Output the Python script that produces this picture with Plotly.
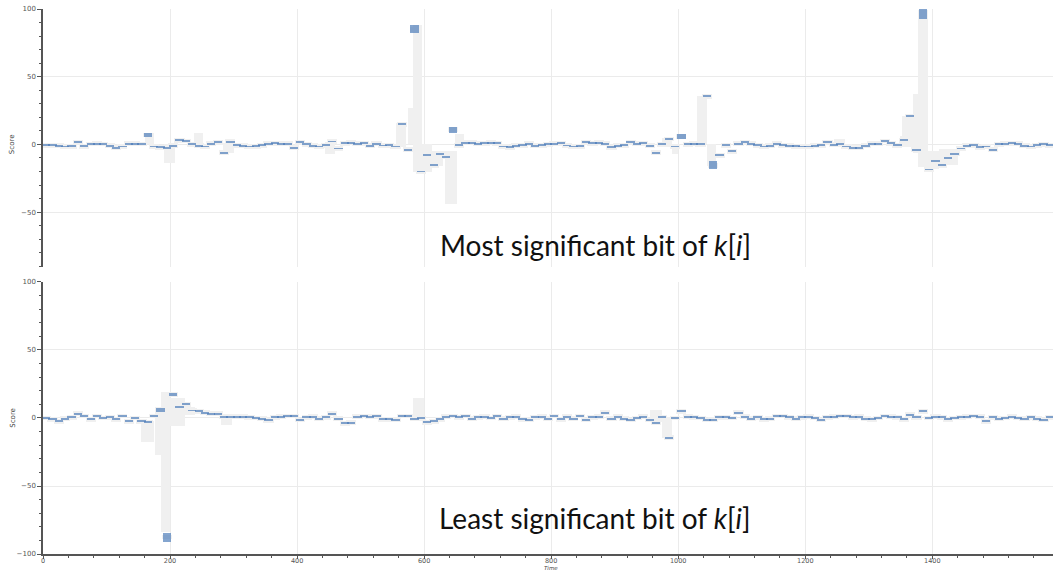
import plotly.graph_objects as go
from plotly.subplots import make_subplots

# ---------------- data ----------------
STEP = 10  # time bin width
# Most significant bit panel: blue score per 10-unit time bin, t = 0..1580
msb_scores = [
    -0.5, -0.5, -1.0, -1.5, -1.2, 1.7, -1.2, 0.3, 0.5, 0.3,
    -1.0, -2.5, -1.5, 0.5, 0.5, 0.3, 7.0, -1.5, -2.0, -2.5,
    -1.0, 3.0, 2.5, 0.0, -1.0, -1.5, 0.5, 1.5, -6.0, 2.0,
    -0.5, -1.0, -1.5, -1.2, -0.5, 0.5, 1.0, 0.5, 0.5, -2.5,
    1.7, 0.0, -1.0, -1.5, -0.5, 2.2, -3.0, 1.0, 1.2, 0.5,
    0.8, -1.0, 0.5, -0.8, -0.5, -1.5, 15.0, -4.0, 85.0, -20.0,
    -7.5, -15.5, -7.0, -9.0, 11.0, -0.7, 1.2, 1.2, 0.5, 1.0,
    1.2, 1.0, -1.5, -2.0, -1.0, -0.5, 0.5, -1.0, -0.5, 0.0,
    0.5, 0.8, -0.8, -1.5, -1.2, 1.5, 1.0, 1.2, 0.5, -2.0,
    -1.0, -0.5, 1.5, 0.5, 0.8, -1.0, -6.0, 0.0, 4.0, -1.5,
    6.0, 0.0, 0.5, 0.0, 35.5, -15.5, -8.0, -0.5, -5.0, 0.5,
    1.5, 0.5, -0.5, -1.5, -1.0, 0.5, -0.5, -1.0, -1.2, -1.5,
    -1.5, -1.0, -0.5, 1.5, -0.3, 0.0, -1.5, -2.5, -2.5, -1.0,
    0.5, 0.5, 2.5, 1.0, -0.7, 3.0, 21.0, -4.0, 97.0, -18.5,
    -12.0, -15.5, -10.0, -7.0, -3.0, -1.0, -0.5, -2.0, -1.5, -4.0,
    0.2, 0.5, 1.0, 0.5, -1.0, -1.5, -0.5, 0.0, -0.5,
]
# Least significant bit panel
lsb_scores = [
    0.0, -1.0, -2.5, -0.5, 0.5, 3.0, 1.5, -1.0, 1.5, 0.0,
    0.5, -1.0, 1.5, -2.5, 0.0, -2.5, -3.0, 1.5, 6.0, -87.5,
    17.5, 8.0, 10.0, 5.5, 4.9, 4.0, 3.2, 3.0, 1.0, 1.0,
    1.0, 1.0, 0.5, 0.0, -0.5, -1.7, 0.5, 1.0, 1.5, 1.5,
    -1.5, 0.5, 1.0, -0.5, 0.5, 3.0, -0.5, -4.0, -3.5, 1.0,
    1.5, 1.0, 1.2, -1.0, -1.0, -1.2, 1.5, 1.5, -0.5, 0.0,
    -3.0, -2.5, -1.0, 1.0, 1.5, 0.5, 1.5, -0.5, 0.5, 1.0,
    0.0, 1.5, -0.5, 0.5, 1.0, -1.0, -1.5, 0.5, 1.0, -0.5,
    1.5, -1.0, 1.0, -0.5, 1.5, -1.5, 0.5, 1.0, 4.0, -0.5,
    1.0, -0.5, -1.5, 0.0, 1.0, -1.5, -3.4, 0.5, -14.6, 0.0,
    5.0, 1.0, 0.5, 0.0, -1.5, -1.2, 0.5, 0.5, 0.0, 4.0,
    1.0, -0.5, 0.5, -1.0, -0.5, 1.5, 1.5, 0.5, -0.5, 0.5,
    1.0, 0.0, -1.5, 0.5, 1.0, 1.5, 1.5, 0.5, 1.0, -0.5,
    -1.0, 0.0, 1.5, 1.0, 0.5, -1.0, 2.5, 0.5, 5.0, 0.0,
    1.0, 0.5, -1.0, 0.0, 0.5, 1.0, 1.5, 1.0, -2.5, 0.5,
    -0.5, 0.0, 1.0, 0.0, -0.5, 0.5, -0.5, -1.5, 0.5,
]
# taller blue marks (bin start time -> mark height)
msb_big_t = [160, 580, 640, 1000, 1050, 1380]
msb_big_h = [3.0, 6.0, 4.4, 4.0, 6.0, 9.0]
lsb_big_t = [180, 190, 200]
lsb_big_h = [2.5, 6.6, 2.5]

# grey score-range bars: start time, end time, low, high
msb_grey_t0 = [160, 190, 237, 284, 444, 555, 575, 583, 597, 612, 633, 649, 975, 990, 1030, 1045, 1246, 1349, 1353, 1370, 1378, 1393, 1410]
msb_grey_t1 = [175, 208, 252, 300, 460, 572, 583, 597, 612, 630, 652, 662, 990, 1000, 1045, 1060, 1262, 1357, 1370, 1378, 1393, 1410, 1440]
msb_grey_lo = [0, -14, 0, -6, -7, -2, 0, -20, -20, -16, -44, 0, -2, -7, 0, -16, -1, -2, -2, -6, -17, -18, -15]
msb_grey_hi = [8.5, 0, 8.4, 1, 2, 16, 27, 88, 0, -5, -5, 8, 5, 0, 36, 0, 4, 6, 21, 37, 99, -5, -3]

lsb_grey_t0 = [155, 177, 185, 197, 224, 280, 583, 955, 975]
lsb_grey_t1 = [175, 186, 200, 224, 240, 298, 600, 975, 990]
lsb_grey_lo = [-18, -27, -84, -6, 2, -5, -2, -3, -14.6]
lsb_grey_hi = [-2, 5.5, 19, 15, 8, 1, 15, 6, 1]

x_ticks = [0, 200, 400, 600, 800, 1000, 1200, 1400]
y_ticks = [-100, -50, 0, 50, 100]

GREY = "#f0f0f0"
BLUE = "rgba(74,122,184,0.68)"
MARK_W = 13
HALO = 1.8
DEFAULT_H = 1.4

fig = make_subplots(rows=2, cols=1, shared_xaxes=False, vertical_spacing=0.0)


def add_panel(row, scores, big_t, big_h, g_t0, g_t1, g_lo, g_hi):
    times = [i * STEP for i in range(len(scores))]
    centers = [t + STEP / 2 for t in times]
    heights = [DEFAULT_H] * len(scores)
    for t, h in zip(big_t, big_h):
        heights[t // STEP] = h
    # light grey halo behind every mark
    fig.add_trace(go.Bar(
        x=centers, y=[2 * HALO] * len(scores), base=[v - HALO for v in scores],
        width=MARK_W + 3, marker=dict(color=GREY, line=dict(width=0)),
        hoverinfo="skip", showlegend=False), row=row, col=1)
    # grey range bars
    fig.add_trace(go.Bar(
        x=[(a + b) / 2 for a, b in zip(g_t0, g_t1)],
        y=[h - l for l, h in zip(g_lo, g_hi)], base=g_lo,
        width=[b - a for a, b in zip(g_t0, g_t1)],
        marker=dict(color=GREY, line=dict(width=0)),
        hoverinfo="skip", showlegend=False), row=row, col=1)
    # blue score marks
    fig.add_trace(go.Bar(
        x=centers, y=heights, base=[v - h / 2 for v, h in zip(scores, heights)],
        width=MARK_W, marker=dict(color=BLUE, line=dict(width=0)),
        showlegend=False), row=row, col=1)


add_panel(1, msb_scores, msb_big_t, msb_big_h, msb_grey_t0, msb_grey_t1, msb_grey_lo, msb_grey_hi)
add_panel(2, lsb_scores, lsb_big_t, lsb_big_h, lsb_grey_t0, lsb_grey_t1, lsb_grey_lo, lsb_grey_hi)

tickfont = dict(family="DejaVu Sans", size=7, color="#555555")
GRID = "#ebebeb"
AXIS = "#555555"

common_x = dict(range=[0, 1590], tickvals=x_ticks, showgrid=True, gridcolor=GRID, gridwidth=1,
                zeroline=False, automargin=False,
                minor=dict(dtick=40, tick0=0, ticks="outside", ticklen=2, tickcolor=AXIS, showgrid=False))
fig.update_xaxes(**common_x)
fig.update_xaxes(row=1, col=1, showticklabels=False, ticks="", showline=False,
                 minor=dict(ticks="", showgrid=False))
fig.update_xaxes(row=2, col=1, showticklabels=True, ticks="outside", ticklen=3, tickcolor=AXIS,
                 showline=True, linecolor=AXIS, linewidth=1.5,
                 tickfont=dict(family="DejaVu Sans", size=6.5, color="#555555"),
                 ticklabelstandoff=-4)

common_y = dict(tickvals=y_ticks, showgrid=True, gridcolor=GRID, gridwidth=1, zeroline=False,
                automargin=False,
                showline=True, linecolor=AXIS, linewidth=1.5, ticks="outside", ticklen=4,
                tickcolor=AXIS, tickfont=tickfont,
                minor=dict(dtick=10, tick0=0, ticks="outside", ticklen=2, tickcolor=AXIS, showgrid=False))
fig.update_yaxes(**common_y)
fig.update_yaxes(row=1, col=1, range=[-90.5, 100], domain=[0.5266, 1.0])
fig.update_yaxes(row=2, col=1, range=[-100, 100], domain=[0.0, 0.4991])

big_font = dict(family="Lato", size=28, color="#111111")
small_font = dict(family="DejaVu Sans", size=7, color="#444444")
annotations = [
    dict(text="Most significant bit of <i>k</i>[<i>i</i>]", x=869, y=-74.6, xref="x", yref="y",
         showarrow=False, font=big_font, xanchor="center", yanchor="middle"),
    dict(text="Least significant bit of <i>k</i>[<i>i</i>]", x=869, y=-73.4, xref="x2", yref="y2",
         showarrow=False, font=big_font, xanchor="center", yanchor="middle"),
    dict(text="Score", x=-0.030, y=0, xref="paper", yref="y", textangle=-90, showarrow=False,
         font=small_font, xanchor="center", yanchor="middle"),
    dict(text="Score", x=-0.030, y=0, xref="paper", yref="y2", textangle=-90, showarrow=False,
         font=small_font, xanchor="center", yanchor="middle"),
    dict(text="<i>Time</i>", x=800, y=0, xref="x2", yref="paper", yshift=-10, showarrow=False,
         font=dict(family="DejaVu Sans", size=5.5, color="#444444"), xanchor="center", yanchor="top",
         borderpad=0),
]

fig.update_layout(
    width=1053, height=570,
    margin=dict(l=43, r=0, t=9, b=16),
    paper_bgcolor="white", plot_bgcolor="white",
    barmode="overlay", bargap=0,
    showlegend=False,
    annotations=annotations,
)

fig.write_html("out.html", config={"displayModeBar": False},
               post_script="document.body.style.margin='0';")
